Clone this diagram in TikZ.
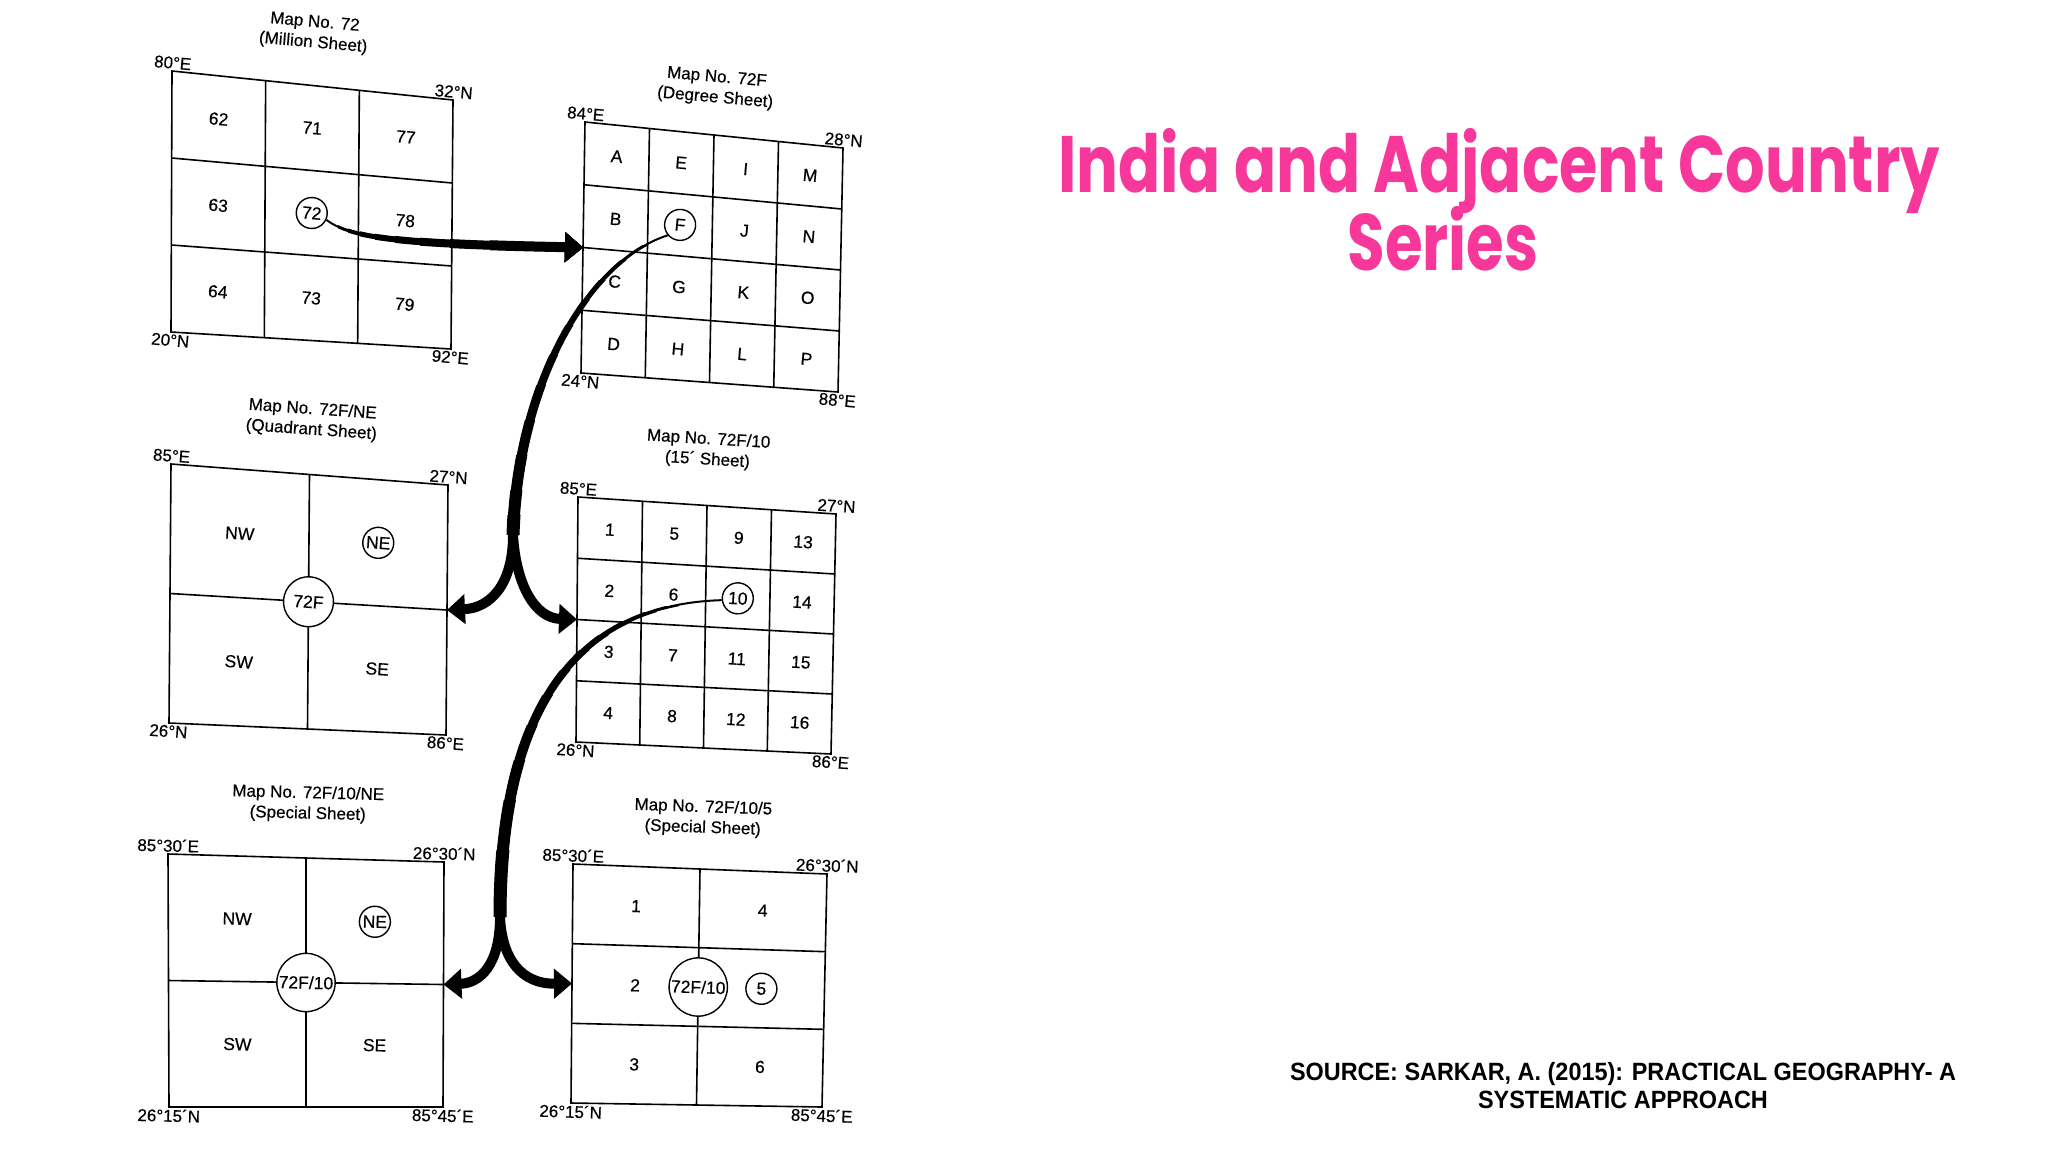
\documentclass[tikz,border=0pt]{standalone}
\usepackage{fontspec}
\setmainfont{Liberation Sans}
\newfontfamily\scanfont[FakeBold=0.4]{Liberation Sans}
\newfontfamily\slidefont{Poppins}
\usepackage{xcolor}
\usepackage{graphicx}
\usepackage{tikz}
\usetikzlibrary{calc,positioning,arrows.meta}

\definecolor{slidepink}{HTML}{F7379A}

% outline and grid lines of one sheet, from its four corners
\newcommand{\sheetgrid}[3]{%
  \draw[sheetline] (#1tl) -- (#1tr) -- (#1br) -- (#1bl) -- cycle;
  \pgfmathtruncatemacro{\lastcol}{#2-1}%
  \pgfmathtruncatemacro{\lastrow}{#3-1}%
  \foreach \col in {1,...,\lastcol}{%
    \pgfmathsetmacro{\fr}{\col/#2}%
    \draw[sheetline] ($(#1tl)!\fr!(#1tr)$) -- ($(#1bl)!\fr!(#1br)$);}%
  \foreach \row in {1,...,\lastrow}{%
    \pgfmathsetmacro{\fr}{\row/#3}%
    \draw[sheetline] ($(#1tl)!\fr!(#1bl)$) -- ($(#1tr)!\fr!(#1br)$);}%
}
% cell labels, column by column
\newcommand{\sheetcells}[4]{%
  \foreach \lab/\sty [count=\idx from 0] in {#4}{%
    \pgfmathsetmacro{\fu}{(floor(\idx/#3)+0.5)/#2}%
    \pgfmathsetmacro{\fv}{(mod(\idx,#3)+0.5)/#3}%
    \node[\sty] (#1-\lab) at ($($(#1tl)!\fu!(#1tr)$)!\fv!($(#1bl)!\fu!(#1br)$)$) {\lab};}%
}
% latitude / longitude at the corners
\newcommand{\sheetcorners}[5]{%
  \node[corner,above] (#1-nw) at (#1tl) {#2};
  \node[corner,above] (#1-ne) at (#1tr) {#3};
  \node[corner,below] (#1-sw) at (#1bl) {#4};
  \node[corner,below] (#1-se) at (#1br) {#5};
}

\begin{document}
\begin{tikzpicture}[x=1pt,y=-1pt,
    sheetline/.style={line width=1.6pt},
    cell/.style={font=\scanfont\fontsize{17.5}{19}\selectfont,inner sep=1pt},
    ring/.style={cell,draw,circle,fill=white,line width=1.4pt,minimum size=31pt},
    hub/.style={ring,minimum size=50pt},
    corner/.style={font=\scanfont\fontsize{17}{19}\selectfont,inner sep=2pt},
    sheettitle/.style={font=\scanfont\fontsize{17}{20.5}\selectfont,align=center},
    tipped/.style={-{Triangle[length=18pt,width=29pt]}}]
  \useasboundingbox (0,0) rectangle (2048,1152);

  % corners of the six sheets
  \coordinate (miltl) at (172,71);   \coordinate (miltr) at (453,100);
  \coordinate (milbl) at (171,332);  \coordinate (milbr) at (451,349);
  \coordinate (degtl) at (585,122);  \coordinate (degtr) at (843,148);
  \coordinate (degbl) at (581,373);  \coordinate (degbr) at (838,392);
  \coordinate (quadtl) at (171,464); \coordinate (quadtr) at (448,485);
  \coordinate (quadbl) at (169,723); \coordinate (quadbr) at (446,735);
  \coordinate (mintl) at (578,497);  \coordinate (mintr) at (836,514);
  \coordinate (minbl) at (576,742);  \coordinate (minbr) at (831,754);
  \coordinate (sp1tl) at (168,854);  \coordinate (sp1tr) at (444,862);
  \coordinate (sp1bl) at (169,1107); \coordinate (sp1br) at (443,1107);
  \coordinate (sp2tl) at (573,864);  \coordinate (sp2tr) at (827,874);
  \coordinate (sp2bl) at (571,1103); \coordinate (sp2br) at (822,1107);

  % million sheet
  \begin{scope}[every node/.append style={rotate=-5}]
    \node[sheettitle] (miltitle) at (314,33) {Map No. 72\\(Million Sheet)};
    \sheetgrid{mil}{3}{3}
    \sheetcells{mil}{3}{3}{62/cell,63/cell,64/cell,71/cell,72/ring,73/cell,77/cell,78/cell,79/cell}
    \sheetcorners{mil}{80°E}{32°N}{20°N}{92°E}
  \end{scope}

  % degree sheet
  \begin{scope}[every node/.append style={rotate=-5}]
    \node[sheettitle] (degtitle) at (716,88) {Map No. 72F\\(Degree Sheet)};
    \sheetgrid{deg}{4}{4}
    \sheetcells{deg}{4}{4}{A/cell,B/cell,C/cell,D/cell,E/cell,F/ring,G/cell,H/cell,
      I/cell,J/cell,K/cell,L/cell,M/cell,N/cell,O/cell,P/cell}
    \sheetcorners{deg}{84°E}{28°N}{24°N}{88°E}
  \end{scope}

  % quadrant sheet
  \begin{scope}[every node/.append style={rotate=-4}]
    \node[sheettitle] (quadtitle) at (312,420) {Map No. 72F/NE\\(Quadrant Sheet)};
    \sheetgrid{quad}{2}{2}
    \sheetcells{quad}{2}{2}{NW/cell,SW/cell,NE/ring,SE/cell}
    \node[hub] (quad-hub) at ($($(quadtl)!.5!(quadtr)$)!.5!($(quadbl)!.5!(quadbr)$)$) {72F};
    \sheetcorners{quad}{85°E}{27°N}{26°N}{86°E}
  \end{scope}

  % 15' sheet
  \begin{scope}[every node/.append style={rotate=-3.5}]
    \node[sheettitle] (mintitle) at (708,450) {Map No. 72F/10\\(15´ Sheet)};
    \sheetgrid{min}{4}{4}
    \sheetcells{min}{4}{4}{1/cell,2/cell,3/cell,4/cell,5/cell,6/cell,7/cell,8/cell,
      9/cell,10/ring,11/cell,12/cell,13/cell,14/cell,15/cell,16/cell}
    \sheetcorners{min}{85°E}{27°N}{26°N}{86°E}
  \end{scope}

  % special sheet, quadrants
  \begin{scope}[every node/.append style={rotate=-1.5}]
    \node[sheettitle] (sp1title) at (308,804) {Map No. 72F/10/NE\\(Special Sheet)};
    \sheetgrid{sp1}{2}{2}
    \sheetcells{sp1}{2}{2}{NW/cell,SW/cell,NE/ring,SE/cell}
    \node[hub,minimum size=58pt] (sp1-hub) at ($($(sp1tl)!.5!(sp1tr)$)!.5!($(sp1bl)!.5!(sp1br)$)$) {72F/10};
    \sheetcorners{sp1}{85°30´E}{26°30´N}{26°15´N}{85°45´E}
  \end{scope}

  % special sheet, six parts
  \begin{scope}[every node/.append style={rotate=-2}]
    \node[sheettitle] (sp2title) at (703,818) {Map No. 72F/10/5\\(Special Sheet)};
    \sheetgrid{sp2}{2}{3}
    \sheetcells{sp2}{2}{3}{1/cell,2/cell,3/cell,4/cell,5/ring,6/cell}
    \node[hub,minimum size=56pt] (sp2-hub) at ($($(sp2tl)!.5!(sp2tr)$)!.5!($(sp2bl)!.5!(sp2br)$)$) {72F/10};
    \sheetcorners{sp2}{85°30´E}{26°30´N}{26°15´N}{85°45´E}
  \end{scope}

  % arrows between the sheets
  \coordinate (degin) at ($(degtl)!0.5!(degbl)$);
  \coordinate (quadin) at ($(quadtr)!0.5!(quadbr)$);
  \coordinate (minin) at ($(mintl)!0.5!(minbl)$);
  \coordinate (sp1in) at ($(sp1tr)!0.5!(sp1br)$);
  \coordinate (sp2in) at ($(sp2tl)!0.5!(sp2bl)$);
  \coordinate (forkA) at (513,535);
  \coordinate (forkB) at (500,917);

  \foreach \w/\xa in {2/0,3/338,4/348,5/360,6/375,7/395,8/420,9/450,10/490}{
    \begin{scope}
      \clip (\xa,150) rectangle (640,320);
      \draw[line width=\w pt,tipped] (mil-72.-20) .. controls (350,238) and (400,244) .. (degin);
    \end{scope}}

  \foreach \w/\ya in {2/0,3/245,4/260,5/280,6/300,7/325,8/355,9/385,10/420,11/455,12/490,13/515}{
    \begin{scope}
      \clip (400,\ya) rectangle (700,560);
      \draw[line width=\w pt] (deg-F.south west) .. controls (590,260) and (518,380) .. (forkA);
    \end{scope}}
  \draw[line width=10pt,line cap=round,tipped] (forkA) .. controls (513,585) and (490,608) .. (quadin);
  \draw[line width=10pt,line cap=round,tipped] (forkA) .. controls (516,585) and (535,618) .. (minin);

  \foreach \w/\ya in {2/0,3/606,4/612,5/622,6/635,7/650,8/670,9/695,10/725,11/760,12/800,13/850}{
    \begin{scope}
      \clip (400,\ya) rectangle (760,940);
      \draw[line width=\w pt] (min-10.190) .. controls (590,604) and (500,690) .. (forkB);
    \end{scope}}
  \draw[line width=10pt,line cap=round,tipped] (forkB) .. controls (500,965) and (480,983) .. (sp1in);
  \draw[line width=10pt,line cap=round,tipped] (forkB) .. controls (502,960) and (522,984) .. (sp2in);

  % slide heading and source
  \node[anchor=base,text=slidepink] (headA) at (1499,192)
    {\resizebox{882pt}{\height}{\fontsize{80}{80}\slidefont\bfseries India and Adjacent Country}};
  \node[anchor=base,text=slidepink] (headB) at (1443,270)
    {\resizebox{191pt}{\height}{\fontsize{80}{80}\slidefont\bfseries Series}};
  \node[anchor=base] (source) at (1623,1080)
    {\resizebox{666pt}{\height}{\fontsize{25}{28}\selectfont\bfseries
      \begin{tabular}[t]{@{}c@{}}SOURCE: SARKAR, A. (2015): PRACTICAL GEOGRAPHY- A\\SYSTEMATIC APPROACH\end{tabular}}};
\end{tikzpicture}
\end{document}
